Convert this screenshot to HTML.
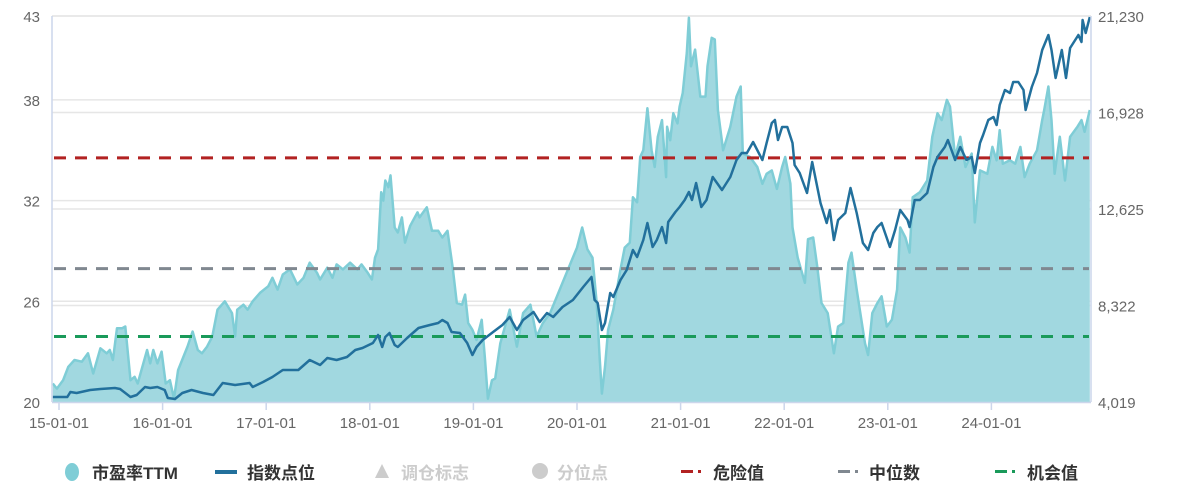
<!DOCTYPE html>
<html><head><meta charset="utf-8">
<style>
html,body{margin:0;padding:0;background:#fff;}
svg{display:block;font-family:"Liberation Sans","Noto Sans CJK SC",sans-serif;}
</style></head>
<body>
<svg id="chart" width="1198" height="491" viewBox="0 0 1198 491" xmlns="http://www.w3.org/2000/svg">
<g id="grid"></g>
<g id="area"></g>
<g id="refs"></g>
<g id="idx"></g>
<g id="axes"></g>
<g id="legend" font-size="17" font-weight="bold" fill="#333">
  <g><ellipse cx="72" cy="472" rx="7" ry="9" fill="#7fcdd6"/><text x="92" y="479">市盈率TTM</text></g>
  <g><rect x="215" y="470" width="22" height="4" fill="#22709c"/><text x="247" y="479">指数点位</text></g>
  <g fill="#ccc"><polygon points="382,464 389,478 375,478"/><text x="401" y="479">调仓标志</text></g>
  <g fill="#ccc"><circle cx="540" cy="471" r="8"/><text x="557" y="479">分位点</text></g>
  <g><rect x="681" y="470" width="12" height="3" fill="#b22222"/><rect x="698" y="470" width="3" height="3" fill="#b22222"/><text x="713" y="479">危险值</text></g>
  <g><rect x="838" y="470" width="12" height="3" fill="#808890"/><rect x="855" y="470" width="3" height="3" fill="#808890"/><text x="869" y="479">中位数</text></g>
  <g><rect x="995" y="470" width="12" height="3" fill="#1a9a5a"/><rect x="1012" y="470" width="3" height="3" fill="#1a9a5a"/><text x="1027" y="479">机会值</text></g>
</g>
</svg>
<script>
const peDates=[2014.94,2014.98,2015.04,2015.09,2015.15,2015.22,2015.28,2015.33,2015.40,2015.46,2015.49,2015.52,2015.56,2015.61,2015.64,2015.69,2015.73,2015.76,2015.85,2015.88,2015.91,2015.95,2015.99,2016.03,2016.07,2016.11,2016.15,2016.24,2016.29,2016.34,2016.38,2016.43,2016.48,2016.53,2016.60,2016.67,2016.70,2016.72,2016.78,2016.82,2016.87,2016.94,2017.02,2017.06,2017.11,2017.16,2017.23,2017.30,2017.36,2017.42,2017.49,2017.52,2017.59,2017.64,2017.68,2017.74,2017.81,2017.88,2017.92,2017.98,2018.02,2018.05,2018.08,2018.11,2018.13,2018.15,2018.18,2018.20,2018.24,2018.27,2018.31,2018.34,2018.39,2018.46,2018.48,2018.55,2018.60,2018.66,2018.70,2018.75,2018.80,2018.84,2018.89,2018.92,2018.95,2018.99,2019.03,2019.08,2019.11,2019.14,2019.18,2019.21,2019.26,2019.35,2019.42,2019.48,2019.55,2019.61,2019.67,2019.74,2019.82,2019.90,2020.00,2020.05,2020.10,2020.15,2020.19,2020.22,2020.24,2020.27,2020.30,2020.35,2020.42,2020.46,2020.51,2020.54,2020.58,2020.61,2020.64,2020.68,2020.72,2020.75,2020.78,2020.82,2020.86,2020.87,2020.90,2020.93,2020.97,2020.99,2021.02,2021.06,2021.08,2021.10,2021.14,2021.19,2021.24,2021.26,2021.30,2021.33,2021.36,2021.41,2021.48,2021.54,2021.58,2021.60,2021.67,2021.74,2021.79,2021.83,2021.88,2021.93,2021.98,2022.01,2022.06,2022.08,2022.13,2022.20,2022.23,2022.28,2022.32,2022.36,2022.42,2022.48,2022.52,2022.57,2022.62,2022.65,2022.70,2022.73,2022.78,2022.81,2022.85,2022.90,2022.94,2022.99,2023.04,2023.09,2023.12,2023.17,2023.21,2023.24,2023.31,2023.38,2023.43,2023.48,2023.52,2023.57,2023.60,2023.65,2023.70,2023.75,2023.81,2023.84,2023.89,2023.96,2024.01,2024.05,2024.08,2024.11,2024.18,2024.23,2024.28,2024.32,2024.37,2024.44,2024.49,2024.51,2024.55,2024.58,2024.61,2024.66,2024.71,2024.76,2024.83,2024.87,2024.90,2024.95];
const peValues=[21.1,20.8,21.3,22.1,22.5,22.4,22.9,21.7,23.2,22.9,23.1,22.5,24.4,24.4,24.5,21.3,21.5,21.1,23.1,22.3,23.1,22.3,23.0,21.1,21.3,20.2,21.9,23.3,24.2,23.1,22.9,23.3,23.9,25.5,26.0,25.3,23.9,25.5,25.8,25.5,26.0,26.5,26.9,27.4,26.7,27.6,27.9,27.0,27.4,28.3,27.7,27.3,28.0,27.4,28.2,27.9,28.3,27.9,28.2,27.7,27.3,28.6,29.1,32.5,32.0,33.2,32.8,33.5,30.4,30.1,31.0,29.5,30.5,31.3,31.0,31.6,30.2,30.2,29.8,30.2,28.0,25.9,25.8,26.4,24.7,24.3,23.7,24.9,22.7,20.2,21.3,21.4,23.5,25.5,23.3,25.3,25.8,23.9,24.7,25.3,26.5,27.7,29.2,30.4,29.1,28.6,25.9,22.5,20.5,22.1,24.3,25.5,27.9,29.2,29.5,32.2,31.9,34.6,35.0,37.5,35.0,34.0,35.8,36.8,33.4,36.4,35.6,37.2,36.6,37.6,38.4,40.8,42.9,40.0,41.0,38.2,38.2,40.0,41.7,41.6,37.4,35.0,36.4,38.2,38.8,34.8,34.6,34.0,33.0,33.6,33.8,32.7,34.0,34.6,33.0,30.4,28.6,27.1,29.7,29.8,28.0,25.9,25.3,22.9,24.5,24.7,28.3,28.9,26.7,25.5,23.5,22.8,25.3,25.9,26.3,24.5,24.9,26.7,30.4,29.8,28.9,32.2,32.5,33.2,35.8,37.2,36.8,38.0,37.6,34.6,35.8,34.0,34.8,30.7,33.8,33.6,35.2,34.4,36.2,34.2,34.4,34.2,35.2,33.4,34.2,35.0,36.8,37.4,38.8,36.8,33.6,35.8,33.2,35.8,36.4,36.8,36.1,37.4];
const idxDates=[2014.94,2015.08,2015.11,2015.17,2015.30,2015.40,2015.54,2015.59,2015.69,2015.75,2015.83,2015.88,2015.95,2016.02,2016.05,2016.12,2016.19,2016.28,2016.39,2016.49,2016.58,2016.70,2016.84,2016.87,2016.97,2017.06,2017.16,2017.31,2017.42,2017.52,2017.59,2017.68,2017.78,2017.86,2017.93,2018.03,2018.08,2018.12,2018.15,2018.19,2018.24,2018.27,2018.36,2018.47,2018.58,2018.66,2018.70,2018.75,2018.79,2018.87,2018.94,2018.99,2019.03,2019.09,2019.19,2019.28,2019.35,2019.42,2019.48,2019.58,2019.64,2019.71,2019.77,2019.86,2019.96,2020.06,2020.14,2020.17,2020.20,2020.24,2020.27,2020.32,2020.35,2020.42,2020.48,2020.54,2020.58,2020.64,2020.68,2020.73,2020.77,2020.82,2020.86,2020.88,2020.95,2020.99,2021.04,2021.08,2021.11,2021.15,2021.20,2021.25,2021.31,2021.40,2021.48,2021.54,2021.59,2021.64,2021.70,2021.79,2021.83,2021.88,2021.91,2021.94,2021.98,2022.03,2022.08,2022.10,2022.15,2022.22,2022.27,2022.35,2022.41,2022.44,2022.48,2022.52,2022.59,2022.64,2022.70,2022.76,2022.81,2022.86,2022.90,2022.94,2023.02,2023.07,2023.12,2023.19,2023.21,2023.26,2023.31,2023.38,2023.44,2023.48,2023.55,2023.58,2023.65,2023.70,2023.76,2023.81,2023.84,2023.89,2023.92,2023.97,2024.02,2024.05,2024.08,2024.13,2024.18,2024.21,2024.26,2024.31,2024.33,2024.39,2024.44,2024.49,2024.55,2024.58,2024.62,2024.68,2024.72,2024.76,2024.84,2024.87,2024.88,2024.91,2024.95];
const idxValues=[4242,4242,4465,4420,4554,4599,4643,4599,4242,4331,4688,4643,4688,4554,4197,4153,4420,4554,4420,4331,4866,4777,4866,4688,4911,5134,5446,5446,5892,5669,5981,5892,6026,6338,6427,6650,7007,6471,6917,7096,6561,6471,6873,7319,7452,7542,7675,7542,7140,7096,6650,6115,6471,6784,7140,7452,7809,7229,7675,8032,7586,7988,7809,8255,8567,9147,9593,8567,8433,7229,7542,8879,8701,9459,9905,10797,10485,11243,12001,10930,11243,11822,11109,12045,12491,12714,13026,13383,13026,13784,12714,13026,14052,13472,14052,14810,15122,15122,15612,14810,15568,16460,16593,15702,16281,16281,15568,14587,14230,13338,14721,12892,12001,12580,11243,12134,12447,13561,12447,11109,10797,11555,11822,12001,10930,11688,12580,12134,11822,13026,13026,13338,14498,14944,15389,15702,14810,15389,14810,14944,14230,15568,15924,16593,16727,16371,17262,17931,17797,18288,18288,17931,17039,18065,18689,19715,20383,19715,18466,19715,18466,19804,20383,20071,21052,20473,21186];
const leftTicks=[20,26,32,38,43];
const rightTicks=["4,019","8,322","12,625","16,928","21,230"];
const xTickLabels=["15-01-01","16-01-01","17-01-01","18-01-01","19-01-01","20-01-01","21-01-01","22-01-01","23-01-01","24-01-01"];
const xTickYears=[2015,2016,2017,2018,2019,2020,2021,2022,2023,2024];
const refValues=[34.55,27.95,23.9];
const refColors=["#b22222","#808890","#1a9a5a"];
const refNames=["danger-line","median-line","opportunity-line"];

const X0=52,X1=1091,Y0=16,Y1=402;
const peMin=20,peMax=43,idxMin=4019,idxMax=21230;
const xs=t=>59+(t-2015)*103.6;
const yl=v=>Y1-(v-peMin)/(peMax-peMin)*(Y1-Y0);
const yr=v=>Y1-(v-idxMin)/(idxMax-idxMin)*(Y1-Y0);
const NS="http://www.w3.org/2000/svg";
function mk(tag,parent,attrs){const e=document.createElementNS(NS,tag);for(const k in attrs)e.setAttribute(k,attrs[k]);parent.appendChild(e);return e;}
const grid=document.getElementById('grid'),axes=document.getElementById('axes');
const rightNums=rightTicks.map(s=>+s.replace(/,/g,''));
leftTicks.forEach((v,i)=>{
  const l=mk('line',grid,{x1:X0,x2:X1,y1:yl(v),y2:yl(v),stroke:'#e6e6e6','stroke-width':1.5});
  
  
  const t=mk('text',axes,{x:40,y:yl(v)+6,'text-anchor':'end','font-size':15,fill:'#666'});
  t.textContent=v;
  
  
});
rightNums.forEach((v,i)=>{
  const l=mk('line',grid,{x1:X0,x2:X1,y1:yr(v),y2:yr(v),stroke:'#e6e6e6','stroke-width':1.5});
  
  
  const t=mk('text',axes,{x:1098,y:yr(v)+6,'font-size':15,fill:'#666'});
  t.textContent=rightTicks[i];
  
  
});
// area
const area=document.getElementById('area');
let d='M'+xs(peDates[0])+','+Y1;
peDates.forEach((t,i)=>{d+=' L'+xs(t).toFixed(1)+','+yl(peValues[i]).toFixed(1);});
d+=' L'+xs(peDates[peDates.length-1])+','+Y1+' Z';
const pa=mk('path',area,{d:d,fill:'#a1d8e0',stroke:'none'});


const pl=mk('polyline',area,{points:peDates.map((t,i)=>xs(t).toFixed(1)+','+yl(peValues[i]).toFixed(1)).join(' '),fill:'none',stroke:'#7fcdd6','stroke-width':2.5,'stroke-linejoin':'round'});


// ref lines
const refs=document.getElementById('refs');
refValues.forEach((v,i)=>{
  const l=mk('line',refs,{x1:X0+2,x2:X1-2,y1:yl(v),y2:yl(v),stroke:refColors[i],'stroke-width':3,'stroke-dasharray':'12,9'});
  
  
});
// index line
const idx=document.getElementById('idx');
const il=mk('polyline',idx,{points:idxDates.map((t,i)=>xs(t).toFixed(1)+','+yr(idxValues[i]).toFixed(1)).join(' '),fill:'none',stroke:'#22709c','stroke-width':2.5,'stroke-linejoin':'round'});


// axes frame
const fl=mk('line',axes,{x1:X0,x2:X0,y1:Y0,y2:Y1,stroke:'#ccd6eb','stroke-width':1.5});


const fr=mk('line',axes,{x1:X1,x2:X1,y1:Y0,y2:Y1,stroke:'#ccd6eb','stroke-width':1.5});


const fb=mk('line',axes,{x1:X0,x2:X1,y1:Y1+0.5,y2:Y1+0.5,stroke:'#ccd6eb','stroke-width':1.5});


xTickYears.forEach((y,i)=>{
  const x=xs(y);
  const tk=mk('line',axes,{x1:x,x2:x,y1:Y1,y2:Y1+8,stroke:'#ccd6eb','stroke-width':1.5});
  
  
  const t=mk('text',axes,{x:x,y:428,'text-anchor':'middle','font-size':15,fill:'#666'});
  t.textContent=xTickLabels[i];
  
  
});
</script>
</body></html>
